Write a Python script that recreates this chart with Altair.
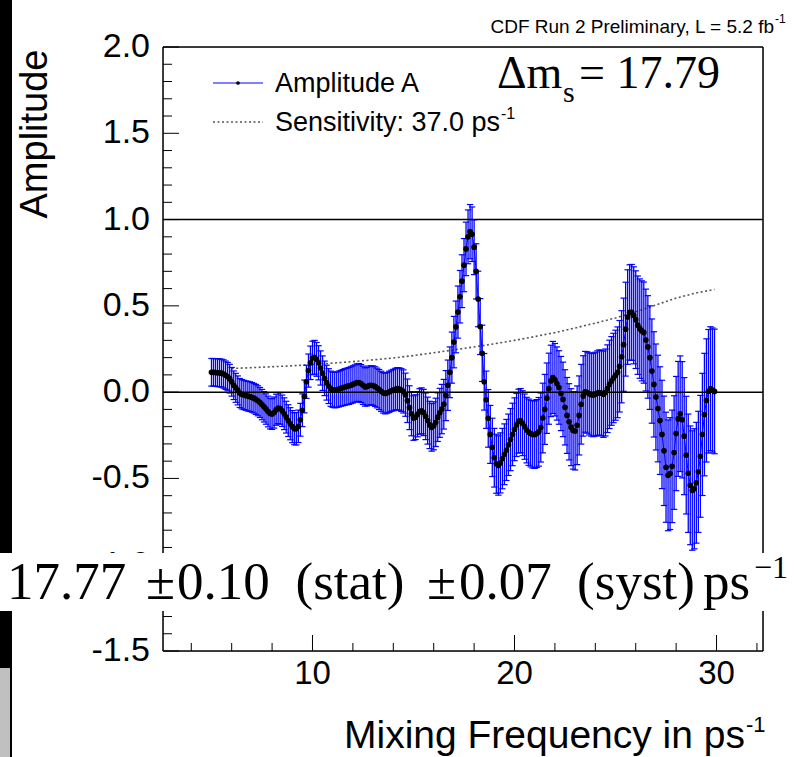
import altair as alt
import pandas as pd

# ---------------- data ----------------
freq = [round(5.0 + 0.1 * i, 1) for i in range(250)]  # scan grid 5.0 ... 29.9 ps^-1

amp = [
    0.115, 0.115, 0.114, 0.113, 0.112, 0.110, 0.105, 0.098, 0.090, 0.078,
    0.060, 0.040, 0.025, 0.010, -0.005, -0.012, -0.016, -0.020, -0.023, -0.026,
    -0.030, -0.035, -0.042, -0.050, -0.060, -0.072, -0.085, -0.098, -0.112, -0.124,
    -0.127, -0.118, -0.102, -0.092, -0.095, -0.108, -0.125, -0.145, -0.165, -0.183,
    -0.200, -0.212, -0.212, -0.198, -0.160, -0.105, -0.025, 0.060, 0.125, 0.170,
    0.198, 0.202, 0.190, 0.170, 0.140, 0.110, 0.080, 0.055, 0.035, 0.020,
    0.014, 0.012, 0.014, 0.018, 0.022, 0.026, 0.030, 0.033, 0.036, 0.040,
    0.045, 0.050, 0.055, 0.056, 0.050, 0.040, 0.030, 0.032, 0.038, 0.040,
    0.038, 0.032, 0.024, 0.015, 0.005, -0.004, -0.008, -0.004, 0.002, 0.008,
    0.012, 0.017, 0.020, 0.018, 0.012, 0.004, -0.015, -0.050, -0.090, -0.125,
    -0.150, -0.145, -0.128, -0.112, -0.108, -0.118, -0.140, -0.165, -0.190, -0.204,
    -0.195, -0.175, -0.145, -0.120, -0.098, -0.070, -0.020, 0.040, 0.115, 0.200,
    0.290, 0.378, 0.464, 0.553, 0.643, 0.736, 0.830, 0.900, 0.930, 0.915,
    0.840, 0.700, 0.540, 0.380, 0.225, 0.060, -0.044, -0.152, -0.245, -0.320,
    -0.380, -0.415, -0.425, -0.410, -0.385, -0.360, -0.335, -0.305, -0.275, -0.245,
    -0.215, -0.190, -0.168, -0.165, -0.180, -0.200, -0.220, -0.232, -0.240, -0.245,
    -0.246, -0.240, -0.230, -0.205, -0.150, -0.100, -0.035, 0.020, 0.065, 0.085,
    0.072, 0.050, 0.027, -0.008, -0.042, -0.088, -0.135, -0.172, -0.203, -0.222,
    -0.225, -0.192, -0.135, -0.070, -0.022, 0.002, -0.002, -0.010, -0.015, -0.017,
    -0.012, -0.006, -0.002, -0.006, -0.012, -0.002, 0.020, 0.045, 0.065, 0.082,
    0.098, 0.115, 0.150, 0.205, 0.275, 0.365, 0.435, 0.462, 0.462, 0.445,
    0.420, 0.388, 0.368, 0.355, 0.345, 0.302, 0.262, 0.200, 0.122, 0.045,
    -0.028, -0.095, -0.165, -0.245, -0.340, -0.435, -0.482, -0.472, -0.430, -0.350,
    -0.240, -0.155, -0.125, -0.160, -0.255, -0.365, -0.470, -0.540, -0.570, -0.560,
    -0.525, -0.462, -0.372, -0.245, -0.130, -0.048, 0.005, 0.020, 0.012, 0.004,
]

err = [
    0.080, 0.080, 0.080, 0.081, 0.081, 0.081, 0.082, 0.082, 0.082, 0.083,
    0.083, 0.083, 0.084, 0.084, 0.084, 0.085, 0.085, 0.085, 0.086, 0.086,
    0.086, 0.086, 0.087, 0.087, 0.087, 0.088, 0.088, 0.088, 0.089, 0.089,
    0.089, 0.090, 0.090, 0.090, 0.091, 0.091, 0.092, 0.092, 0.092, 0.093,
    0.093, 0.093, 0.094, 0.094, 0.095, 0.095, 0.095, 0.096, 0.096, 0.097,
    0.097, 0.098, 0.098, 0.099, 0.099, 0.100, 0.100, 0.101, 0.101, 0.102,
    0.102, 0.103, 0.103, 0.104, 0.104, 0.105, 0.106, 0.106, 0.107, 0.107,
    0.108, 0.108, 0.109, 0.110, 0.110, 0.111, 0.111, 0.112, 0.113, 0.113,
    0.114, 0.115, 0.115, 0.116, 0.116, 0.117, 0.118, 0.118, 0.119, 0.119,
    0.120, 0.121, 0.122, 0.123, 0.124, 0.125, 0.125, 0.126, 0.127, 0.128,
    0.129, 0.130, 0.131, 0.132, 0.133, 0.134, 0.135, 0.136, 0.137, 0.138,
    0.139, 0.140, 0.141, 0.142, 0.143, 0.144, 0.145, 0.146, 0.147, 0.148,
    0.149, 0.150, 0.151, 0.152, 0.153, 0.154, 0.155, 0.156, 0.157, 0.158,
    0.159, 0.160, 0.161, 0.162, 0.163, 0.164, 0.166, 0.167, 0.168, 0.169,
    0.170, 0.171, 0.172, 0.174, 0.175, 0.176, 0.177, 0.178, 0.180, 0.181,
    0.182, 0.183, 0.185, 0.186, 0.188, 0.189, 0.190, 0.192, 0.193, 0.195,
    0.196, 0.197, 0.199, 0.200, 0.202, 0.203, 0.204, 0.206, 0.207, 0.209,
    0.210, 0.212, 0.213, 0.215, 0.216, 0.218, 0.220, 0.221, 0.223, 0.224,
    0.226, 0.228, 0.229, 0.231, 0.233, 0.234, 0.236, 0.238, 0.240, 0.241,
    0.243, 0.245, 0.247, 0.248, 0.250, 0.252, 0.254, 0.256, 0.257, 0.259,
    0.261, 0.263, 0.265, 0.267, 0.270, 0.272, 0.274, 0.276, 0.278, 0.281,
    0.283, 0.285, 0.288, 0.290, 0.293, 0.295, 0.297, 0.300, 0.302, 0.305,
    0.307, 0.309, 0.312, 0.314, 0.317, 0.319, 0.321, 0.324, 0.326, 0.329,
    0.331, 0.333, 0.335, 0.337, 0.339, 0.341, 0.343, 0.344, 0.346, 0.348,
    0.350, 0.351, 0.353, 0.354, 0.355, 0.357, 0.358, 0.359, 0.360, 0.361,
]

sens_freq = [6, 7, 8, 9, 10, 11, 12, 13, 14, 15, 16, 17, 18, 19, 20, 21, 22,
             23, 24, 25, 26, 27, 28, 29, 29.9]
sens_val = [0.137, 0.142, 0.147, 0.153, 0.160, 0.168, 0.177, 0.187, 0.198,
            0.212, 0.228, 0.245, 0.262, 0.280, 0.300, 0.322, 0.345, 0.372,
            0.400, 0.430, 0.465, 0.505, 0.545, 0.575, 0.595]

y_major = [-1.5, -1.0, -0.5, 0.0, 0.5, 1.0, 1.5, 2.0]
y_labels = ["-1.5", "-1.0", "-0.5", "0.0", "0.5", "1.0", "1.5", "2.0"]
y_minor = [-1.4, -1.3, -1.2, -1.1, -0.9, -0.8, -0.7, -0.6, -0.4, -0.3, -0.2,
           -0.1, 0.1, 0.2, 0.3, 0.4, 0.6, 0.7, 0.8, 0.9, 1.1, 1.2, 1.3, 1.4,
           1.6, 1.7, 1.8, 1.9]
x_major = [10, 20, 30]
x_labels = ["10", "20", "30"]
x_minor = [4, 6, 8, 12, 14, 16, 18, 22, 24, 26, 28, 32]
ref_lines = [0.0, 1.0]

# ---------------- layout ----------------
W, H = 600, 604          # plot frame
L, T = 163, 47           # frame origin on the page
PW, PH = 795, 757

xs = alt.Scale(domain=[2.6, 32.3], nice=False, zero=False)
ys = alt.Scale(domain=[-1.5, 2.0], nice=False, zero=False)

df = pd.DataFrame({"f": freq, "A": amp, "e": err})
df["lo"] = df["A"] - df["e"]
df["hi"] = df["A"] + df["e"]
sdf = pd.DataFrame({"f": sens_freq, "S": sens_val})
one = pd.DataFrame({"k": [0]})

BLUE = "#0000ff"
SANS = "Liberation Sans"
SERIF = "Liberation Serif"

X = lambda fld: alt.X(fld, scale=xs, axis=None)
Y = lambda fld: alt.Y(fld, scale=ys, axis=None)

sens = alt.Chart(sdf).mark_line(color="#555555", strokeDash=[2, 2.5], strokeWidth=1.6).encode(
    x=X("f:Q"), y=Y("S:Q"))

bars = alt.Chart(df).mark_rule(color=BLUE, strokeWidth=1.3).encode(
    x=X("f:Q"), y=Y("lo:Q"), y2="hi:Q")
cap_lo = alt.Chart(df).mark_point(shape="M -1 0 L 1 0", size=40, color=BLUE, filled=False,
                                  strokeWidth=1.2, opacity=1).encode(x=X("f:Q"), y=Y("lo:Q"))
cap_hi = alt.Chart(df).mark_point(shape="M -1 0 L 1 0", size=40, color=BLUE, filled=False,
                                  strokeWidth=1.2, opacity=1).encode(x=X("f:Q"), y=Y("hi:Q"))
refs = alt.Chart(pd.DataFrame({"v": ref_lines})).mark_rule(color="black", strokeWidth=1.5).encode(
    y=Y("v:Q"))
line = alt.Chart(df).mark_line(color=BLUE, strokeWidth=1).encode(x=X("f:Q"), y=Y("A:Q"))
pts = alt.Chart(df).mark_circle(color="black", size=32, opacity=1).encode(x=X("f:Q"), y=Y("A:Q"))

ymaj = alt.Chart(pd.DataFrame({"v": y_major})).mark_rule(color="black", strokeWidth=1).encode(
    y=Y("v:Q"), x=alt.value(0), x2=alt.value(16))
ymin = alt.Chart(pd.DataFrame({"v": y_minor})).mark_rule(color="black", strokeWidth=1).encode(
    y=Y("v:Q"), x=alt.value(0), x2=alt.value(9))
xmaj = alt.Chart(pd.DataFrame({"v": x_major})).mark_rule(color="black", strokeWidth=1).encode(
    x=X("v:Q"), y=alt.value(H), y2=alt.value(H - 16))
xmin = alt.Chart(pd.DataFrame({"v": x_minor})).mark_rule(color="black", strokeWidth=1).encode(
    x=X("v:Q"), y=alt.value(H), y2=alt.value(H - 8))

ylab = alt.Chart(pd.DataFrame({"v": y_major, "t": y_labels})).mark_text(
    font=SANS, fontSize=34, align="right", baseline="middle", color="black").encode(
    y=Y("v:Q"), x=alt.value(-13), text="t:N")
xlab = alt.Chart(pd.DataFrame({"v": x_major, "t": x_labels})).mark_text(
    font=SANS, fontSize=33, align="center", baseline="top", color="black").encode(
    x=X("v:Q"), y=alt.value(H + 7), text="t:N")


def rule(x1, y1, x2, y2, color="black", width=1.5, dash=None):
    kw = dict(color=color, strokeWidth=width)
    if dash:
        kw["strokeDash"] = dash
    return alt.Chart(one).mark_rule(**kw).encode(
        x=alt.value(x1 - L), y=alt.value(y1 - T), x2=alt.value(x2 - L), y2=alt.value(y2 - T))


def rect(x1, y1, x2, y2, color):
    return alt.Chart(one).mark_rect(color=color, opacity=1).encode(
        x=alt.value(x1 - L), y=alt.value(y1 - T), x2=alt.value(x2 - L), y2=alt.value(y2 - T))


def text(s, x, y, size, font=SANS, align="left", angle=0):
    kw = dict(text=s, font=font, fontSize=size, align=align, baseline="alphabetic", color="black")
    if angle:
        kw["angle"] = angle
    return alt.Chart(one).mark_text(**kw).encode(x=alt.value(x - L), y=alt.value(y - T))


frame = [
    rule(L, T, L + W, T),
    rule(L, T + H, L + W, T + H),
    rule(L, T, L, T + H),
    rule(L + W, T, L + W, T + H),
]

legend = [
    rule(213, 83, 263, 83, color=BLUE, width=1.2),
    alt.Chart(one).mark_circle(color="black", size=14, opacity=1).encode(
        x=alt.value(238 - L), y=alt.value(83 - T)),
    text("Amplitude A", 275, 92, 27),
    rule(213, 122, 263, 122, color="#555555", width=1.6, dash=[2, 2.5]),
    text("Sensitivity: 37.0 ps", 275, 131, 27),
    text("-1", 501, 119, 16),
]

titles = [
    text("CDF Run 2 Preliminary, L = 5.2 fb", 774, 33, 19, align="right"),
    text("-1", 775, 23, 12),
    text("Amplitude", 47, 134, 38, angle=270, align="center"),
    text("Mixing Frequency in ps", 745, 748, 39, align="right"),
    text("-1", 746, 732, 22),
    text("\u0394m", 497, 88, 46, font=SERIF),
    text("s", 563, 102, 30, font=SERIF),
    text("= 17.79", 579, 88, 46, font=SERIF),
]

overlay = [
    rect(0, 0, 12, 553, "black"),
    rect(0, 553, PW, 611, "white"),
    rect(0, 611, 12, 668, "black"),
    rect(0, 668, 12, PH, "#c0c0c0"),
    rule(11, 668, 11, PH, width=2),
    text("17.77", 7, 599, 53, font=SERIF),
    text("\u00b1", 146, 599, 53, font=SERIF),
    text("0.10", 177, 599, 53, font=SERIF),
    text("(stat)", 350, 599, 53, font=SERIF, align="center"),
    text("\u00b1", 427, 599, 53, font=SERIF),
    text("0.07", 459, 599, 53, font=SERIF),
    text("(syst)", 636, 599, 53, font=SERIF, align="center"),
    text("ps", 703, 599, 53, font=SERIF),
    text("\u22121", 754, 578, 32, font=SERIF),
]

layers = ([sens, bars, cap_lo, cap_hi, refs, line, pts, ymaj, ymin, xmaj, xmin, ylab, xlab]
          + frame + legend + overlay + titles)

chart = alt.layer(*layers).properties(
    width=W, height=H,
    autosize=alt.AutoSizeParams(type="none"),
    padding={"left": L, "top": T, "right": PW - L - W, "bottom": PH - T - H},
).configure_view(stroke=None).configure(background="white")

chart.save("out.html", embed_options={"renderer": "svg", "actions": False})
